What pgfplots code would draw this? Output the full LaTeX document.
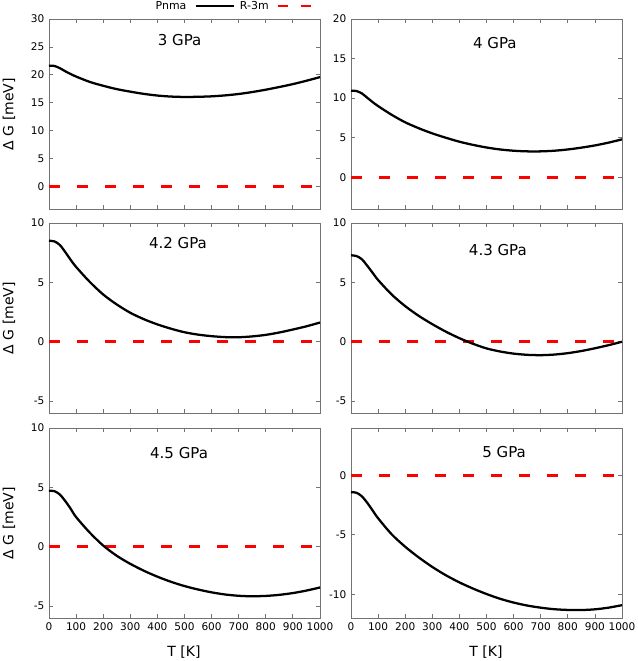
\documentclass[border=0pt]{standalone}
\usepackage{fontspec}
\setmainfont{DejaVu Sans}
\usepackage{pgfplots}
\pgfplotsset{compat=1.18}

% gnuplot-like panel: gray box, inward ticks on all sides
\pgfplotsset{
  panel/.style={
    scale only axis, width=203.25pt, height=142.5pt, anchor=south west,
    xmin=0, xmax=1000, xtick={0,100,...,1000},
    tick align=inside, major tick length=3pt,
    axis line style={black!55, line width=0.6pt},
    every tick/.style={black!55, line width=0.6pt},
    tick label style={font=\fontsize{7.9}{9}\selectfont},
    /pgf/number format/assume math mode=true,
    /pgf/number format/1000 sep={},
    clip=false,
  },
  leftlab/.style={ylabel={Δ G [meV]},
    every axis y label/.style={at={(axis description cs:-0.148,0.5)},rotate=90,anchor=center,font=\fontsize{10.5}{12}\selectfont}},
  botlab/.style={xlabel={T [K]},
    every axis x label/.style={at={(axis description cs:0.498,-0.179)},anchor=center,font=\fontsize{10.5}{12}\selectfont}},
  nox/.style={xticklabels={}},
  pnma/.style={black, line width=1.7pt, smooth},
  r3m/.style={red, line width=2pt, dash pattern=on 8pt off 13pt},
}
\newcommand{\ttl}{\fontsize{11.25}{13}\selectfont}

\begin{document}
\begin{tikzpicture}
\useasboundingbox (0,0) rectangle (477.75pt,495.75pt);

% ---- 3 GPa
\begin{axis}[panel, leftlab, nox, at={(36.75pt,339pt)},
    ymin=-4, ymax=30, ytick={0,5,...,30},
    legend plot pos=right, legend columns=2,
    legend style={draw=none, fill=none, at={(axis description cs:0.974,1.068)}, anchor=east,
      font=\fontsize{8.2}{9}\selectfont, inner sep=0pt,
      /tikz/every even column/.append style={column sep=2pt},
      /tikz/every odd column/.append style={column sep=4pt}}]
\addlegendimage{legend image code/.code={\draw[black, line width=1.7pt] (0pt,0pt) -- (28.5pt,0pt);}}
\addlegendentry{Pnma}
\addlegendimage{legend image code/.code={\draw[red, line width=2pt, dash pattern=on 7.5pt off 9.5pt] (0pt,0pt) -- (25pt,0pt);}}
\addlegendentry{R-3m}
\addplot[r3m, forget plot] coordinates {(0,0)(1000,0)};
\addplot[pnma, forget plot] coordinates {
  (0,21.65)(20,21.6)(40,21.2)(60,20.65)(80,20.15)(100,19.7)(150,18.75)(200,18.05)
  (250,17.45)(300,17.0)(350,16.6)(400,16.3)(450,16.12)(500,16.05)(550,16.08)(600,16.16)
  (650,16.33)(700,16.58)(750,16.93)(800,17.35)(850,17.83)(900,18.35)(950,18.95)(1000,19.6)};
\node[font=\ttl] at (axis cs:482,26.3) {3 GPa};
\end{axis}

% ---- 4 GPa
\begin{axis}[panel, nox, at={(263.25pt,339pt)},
    ymin=-4, ymax=20, ytick={0,5,...,20}]
\addplot[r3m] coordinates {(0,0)(1000,0)};
\addplot[pnma] coordinates {
  (0,10.95)(20,10.9)(40,10.6)(60,10.05)(80,9.5)(100,9.0)(150,7.9)(200,6.95)(250,6.2)
  (300,5.55)(350,5.0)(400,4.5)(450,4.1)(500,3.77)(550,3.52)(600,3.36)(650,3.28)(700,3.28)
  (750,3.36)(800,3.52)(850,3.75)(900,4.03)(950,4.38)(1000,4.8)};
\node[font=\ttl] at (axis cs:531,17.0) {4 GPa};
\end{axis}

% ---- 4.2 GPa
\begin{axis}[panel, leftlab, nox, at={(36.75pt,186pt)},
    ymin=-6, ymax=10, ytick={-5,0,5,10}]
\addplot[r3m] coordinates {(0,0)(1000,0)};
\addplot[pnma] coordinates {
  (0,8.5)(20,8.45)(40,8.15)(60,7.55)(80,6.9)(100,6.3)(150,5.05)(200,3.98)(250,3.14)
  (300,2.44)(350,1.9)(400,1.46)(450,1.1)(500,0.8)(550,0.6)(600,0.47)(650,0.39)(700,0.38)
  (750,0.45)(800,0.58)(850,0.78)(900,1.03)(950,1.3)(1000,1.62)};
\node[font=\ttl] at (axis cs:476,8.3) {4.2 GPa};
\end{axis}

% ---- 4.3 GPa
\begin{axis}[panel, nox, at={(263.25pt,186pt)},
    ymin=-6, ymax=10, ytick={-5,0,5,10}]
\addplot[r3m] coordinates {(0,0)(1000,0)};
\addplot[pnma] coordinates {
  (0,7.28)(20,7.22)(40,6.95)(60,6.4)(80,5.8)(100,5.2)(150,3.98)(200,3.0)(250,2.18)
  (300,1.48)(350,0.85)(400,0.3)(450,-0.17)(500,-0.56)(550,-0.82)(600,-1.0)(650,-1.1)
  (700,-1.13)(750,-1.08)(800,-0.96)(850,-0.78)(900,-0.55)(950,-0.29)(1000,0.0)};
\node[font=\ttl] at (axis cs:542,7.7) {4.3 GPa};
\end{axis}

% ---- 4.5 GPa
\begin{axis}[panel, leftlab, botlab, at={(36.75pt,32.25pt)},
    ymin=-6, ymax=10, ytick={-5,0,5,10}]
\addplot[r3m] coordinates {(0,0)(1000,0)};
\addplot[pnma] coordinates {
  (0,4.72)(20,4.68)(40,4.4)(60,3.85)(80,3.2)(100,2.5)(150,1.2)(200,0.1)(250,-0.76)
  (300,-1.44)(350,-2.02)(400,-2.52)(450,-2.95)(500,-3.31)(550,-3.6)(600,-3.84)(650,-4.02)
  (700,-4.13)(750,-4.17)(800,-4.14)(850,-4.05)(900,-3.9)(950,-3.69)(1000,-3.43)};
\node[font=\ttl] at (axis cs:480,7.9) {4.5 GPa};
\end{axis}

% ---- 5 GPa
\begin{axis}[panel, botlab, at={(263.25pt,32.25pt)},
    ymin=-12, ymax=4, ytick={-10,-5,0}]
\addplot[r3m] coordinates {(0,0)(1000,0)};
\addplot[pnma] coordinates {
  (0,-1.4)(20,-1.45)(40,-1.75)(60,-2.3)(80,-2.95)(100,-3.6)(150,-4.95)(200,-6.0)(250,-6.9)
  (300,-7.7)(350,-8.4)(400,-9.0)(450,-9.52)(500,-9.98)(550,-10.38)(600,-10.7)(650,-10.95)
  (700,-11.13)(750,-11.26)(800,-11.32)(850,-11.33)(900,-11.27)(950,-11.13)(1000,-10.92)};
\node[font=\ttl] at (axis cs:565,2.0) {5 GPa};
\end{axis}
\end{tikzpicture}
\end{document}
